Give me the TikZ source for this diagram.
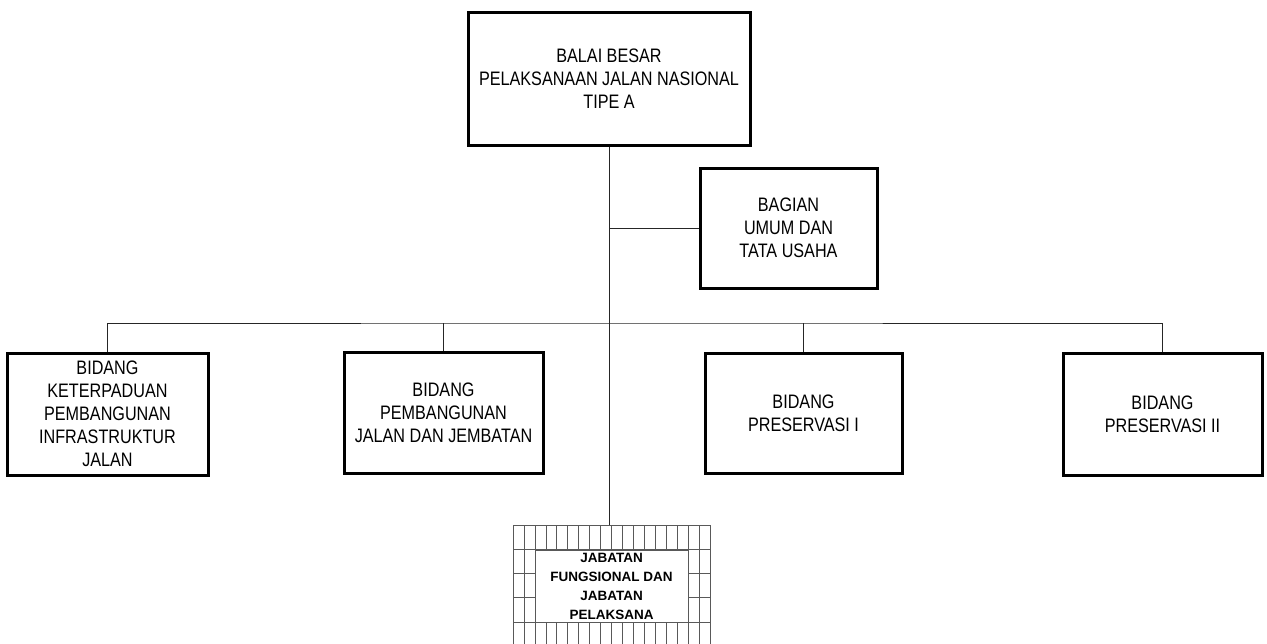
\documentclass[tikz,border=0pt]{standalone}
\usepackage{fontspec}
\setmainfont{Liberation Sans}
\newfontfamily\narrowsans[FakeStretch=0.83]{Liberation Sans}
\tikzstyle{unit}=[draw,line width=3pt,align=center,inner sep=0pt,font=\narrowsans\fontsize{19.5}{23}\selectfont]
\tikzstyle{link}=[line width=0.8pt,draw=black!85]
\tikzstyle{gridline}=[line width=0.6pt,draw=black!65]
\tikzstyle{jabatan}=[draw=black!65,line width=0.6pt,fill=white,align=center,inner sep=0pt,minimum width=153pt,minimum height=72pt,font=\bfseries\fontsize{13.5}{19}\selectfont]

\begin{document}
\begin{tikzpicture}[x=1pt,y=-1pt]
\useasboundingbox (0,0) rectangle (1267,643);
\clip (0,0) rectangle (1267,643);
\node[unit,minimum width=282pt,minimum height=133pt] (balai) at (609,78.5) {BALAI BESAR\\PELAKSANAAN JALAN NASIONAL\\TIPE A};
\node[unit,minimum width=177pt,minimum height=120pt] (umum) at (788.5,228) {BAGIAN\\UMUM DAN\\TATA USAHA};
\node[unit,minimum width=201pt,minimum height=122pt] (keterpaduan) at (107.5,414) {BIDANG\\KETERPADUAN\\PEMBANGUNAN\\INFRASTRUKTUR\\JALAN};
\node[unit,minimum width=199pt,minimum height=121pt] (pembangunan) at (443.5,412.5) {BIDANG\\PEMBANGUNAN\\JALAN DAN JEMBATAN};
\node[unit,minimum width=197pt,minimum height=120pt] (preservasi1) at (803.5,413) {BIDANG\\PRESERVASI I};
\node[unit,minimum width=199pt,minimum height=122pt] (preservasi2) at (1162.5,414) {BIDANG\\PRESERVASI II};
% jabatan grid frame
\coordinate (gridtop) at (609,525);
\foreach \i in {0,...,18}
  \draw[gridline] (513+10.944*\i,525) -- (513+10.944*\i,680);
\foreach \j in {0,...,6}
  \draw[gridline] (513,525+24.2*\j) -- (710,525+24.2*\j);
\node[jabatan] (jabatan) at (611.5,586) {JABATAN\\FUNGSIONAL DAN\\JABATAN\\PELAKSANA};
\coordinate (bus) at (609,323);
\draw[link] (balai.south) -- (gridtop);
\draw[link] (umum.west) -- (umum.west -| balai.south);
\draw[link] (keterpaduan.north) |- (bus) -| (preservasi2.north);
\draw[link] (pembangunan.north) -- (pembangunan.north |- bus);
\draw[link] (preservasi1.north) -- (preservasi1.north |- bus);
\end{tikzpicture}
\end{document}
